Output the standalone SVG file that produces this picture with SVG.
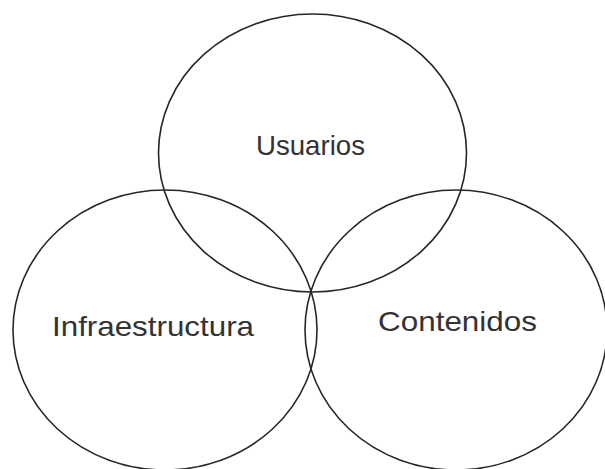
<svg xmlns="http://www.w3.org/2000/svg" width="605" height="469" viewBox="0 0 605 469">
<style>
.c{fill:none;stroke:#262626;stroke-width:1.6}
.t{font-family:"Liberation Sans",Arial,sans-serif;font-size:28px;fill:#333;text-anchor:start}
</style>
<rect width="605" height="469" fill="#fff"/>
<g id="usuarios">
<ellipse class="c" cx="312.5" cy="153" rx="154" ry="139"/>
<text class="t" x="256" y="155" textLength="109" lengthAdjust="spacingAndGlyphs">Usuarios</text>
</g>
<g id="infraestructura">
<ellipse class="c" cx="165" cy="330" rx="152" ry="140"/>
<text class="t" x="52" y="336" textLength="202" lengthAdjust="spacingAndGlyphs">Infraestructura</text>
</g>
<g id="contenidos">
<ellipse class="c" cx="456" cy="330" rx="151" ry="140"/>
<text class="t" x="378" y="331" textLength="159" lengthAdjust="spacingAndGlyphs">Contenidos</text>
</g>
<g id="connectors"/>
</svg>
